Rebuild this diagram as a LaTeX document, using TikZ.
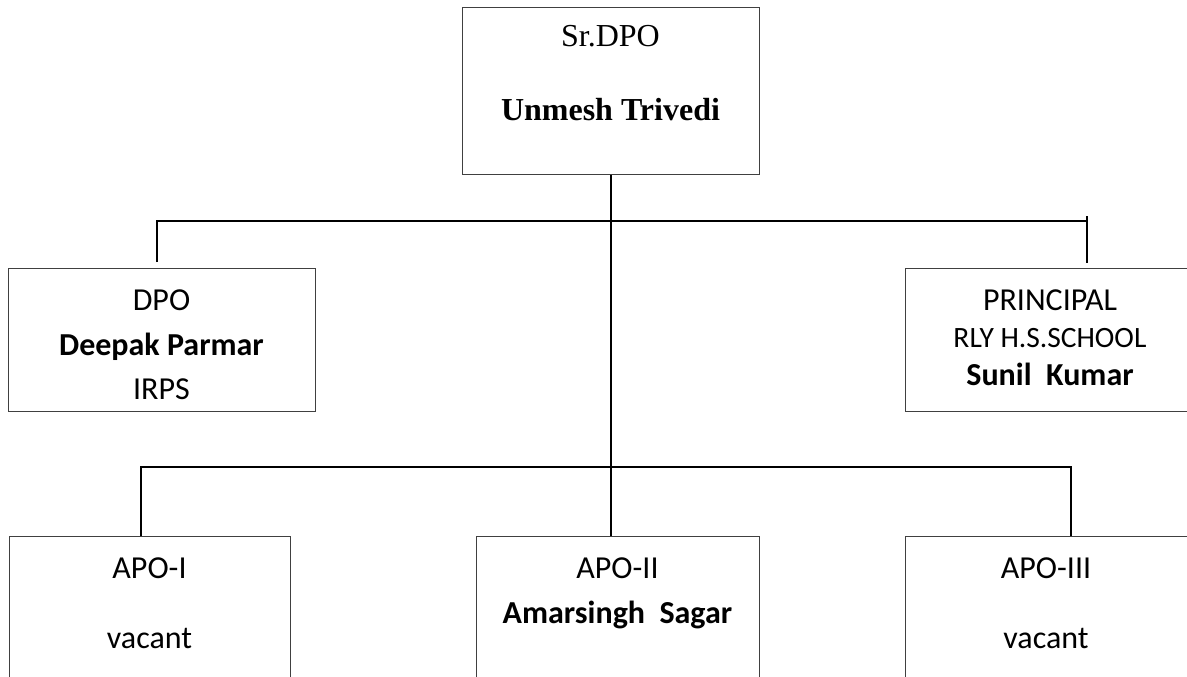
\documentclass[tikz,border=0pt]{standalone}
\usepackage{fontspec}
\setmainfont{Carlito}
\newfontfamily\timesfont{Liberation Serif}
\begin{document}
\begin{tikzpicture}[x=1pt,y=-1pt,
  box/.style={draw=black!75,line width=1pt,rectangle,inner sep=0pt,anchor=north west},
  conn/.style={draw=black,line width=2.7pt,line cap=butt,line join=miter},
  lbl/.style={anchor=base,inner sep=0pt,font=\fontsize{32}{38}\selectfont},
  lblb/.style={lbl,font=\fontsize{32}{38}\selectfont\bfseries},
  tlbl/.style={anchor=base,inner sep=0pt,font=\fontsize{32}{38}\selectfont\timesfont},
  tlblb/.style={tlbl,font=\fontsize{32}{38}\selectfont\timesfont\bfseries}]
\useasboundingbox (0,0) rectangle (1187,677);
\fill[white] (0,0) rectangle (1187,677);
\begin{scope}
\clip (0,0) rectangle (1187,677);
% boxes
\node[box,minimum width=297pt,minimum height=167pt] (top) at (462,7) {};
\node[box,minimum width=307pt,minimum height=143pt] (dpo) at (8,268) {};
\node[box,minimum width=285pt,minimum height=143pt] (prin) at (905,268) {};
\node[box,minimum width=281pt,minimum height=160pt] (apo1) at (9,536) {};
\node[box,minimum width=283pt,minimum height=160pt] (apo2) at (476,536) {};
\node[box,minimum width=285pt,minimum height=160pt] (apo3) at (905,536) {};
% texts
\node[tlbl] (t1) at (610.5,47) {Sr.DPO};
\node[tlblb] (t2) at (610.5,121) {Unmesh Trivedi};
\node[lbl] (d1) at (161.5,310) {DPO};
\node[lblb] (d2) at (161.5,355) {Deepak Parmar};
\node[lbl] (d3) at (161.5,399) {IRPS};
\node[lbl] (p1) at (1050,310) {PRINCIPAL};
\node[lbl,font=\fontsize{29.5}{35}\selectfont] (p2) at (1050,347) {RLY H.S.SCHOOL};
\node[lblb] (p3) at (1050,385) {Sunil\ \ Kumar};
\node[lbl] (a11) at (149.5,578) {APO-I};
\node[lbl] (a12) at (149.5,648) {vacant};
\node[lbl] (a21) at (617.5,578) {APO-II};
\node[lblb] (a22) at (617.5,623) {Amarsingh\ \ Sagar};
\node[lbl] (a31) at (1046,578) {APO-III};
\node[lbl] (a32) at (1046,648) {vacant};
% connector points
\coordinate (dpoT) at (157,262);
\coordinate (prinT) at (1087,263);
\coordinate (prinU) at (1087,216);
\coordinate (bus1) at (611,221);
\coordinate (bus2) at (611,467);
% connectors
\draw[conn] (top.south -| bus1) -- (apo2.north -| bus1);
\draw[conn] (dpoT) |- (bus1) -| (prinU) -- (prinT);
\draw[conn] (apo1.north -| 141,0) |- (bus2) -| (apo3.north -| 1071,0);
\end{scope}
\end{tikzpicture}
\end{document}
